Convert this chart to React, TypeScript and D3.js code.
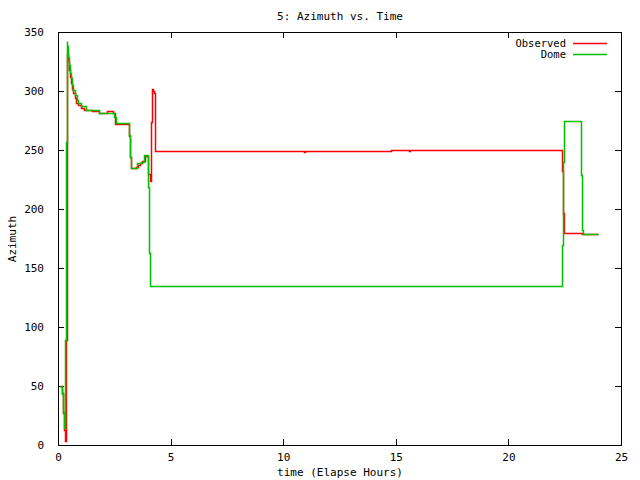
import React, { useEffect, useRef } from 'react';
import * as d3 from 'd3';

// Dome azimuth (green), step samples: elapsed hours / degrees
const domeTime = [
  0.09, 0.13, 0.16, 0.21, 0.24, 0.28, 0.33, 0.36, 0.38, 0.42, 0.45, 0.48, 0.52, 0.57, 0.62, 0.68,
  0.74, 0.83, 0.9, 1.04, 1.26, 1.84, 2.49, 2.58, 3.17, 3.21, 3.25, 3.52, 3.7, 3.82, 4.01, 4.06,
  4.1, 22.39, 22.43, 22.48, 23.24, 23.28, 23.32, 23.99,
];
const domeAzimuth = [
  50, 49, 43, 37, 28, 14, 89, 257, 342, 338, 329, 322, 315, 311, 305, 301,
  297, 292, 289.6, 287, 284, 281, 278, 272.6, 262.7, 244, 234.7, 238.7, 240, 245.8, 219, 162.7,
  134.7, 169.5, 240, 274.8, 228.8, 182, 178.8, 178.8,
];

// Observed azimuth (red)
const observedTime = [
  0.09, 0.16, 0.21, 0.24, 0.28, 0.33, 0.36, 0.4, 0.45, 0.48, 0.52, 0.57, 0.62, 0.68, 0.74, 0.8,
  0.88, 1.0, 1.15, 1.5, 1.84, 2.18, 2.45, 2.55, 3.17, 3.21, 3.25, 3.45, 3.55, 3.65, 3.75, 3.87,
  4.01, 4.08, 4.13, 4.17, 4.22, 4.27, 4.29, 10.94, 10.99, 11.86, 14.77, 15.6, 15.65, 22.39,
  22.43, 22.46, 23.28, 23.99,
];
const observedAzimuth = [
  50, 44, 36, 27, 13, 3, 89, 331, 325, 318, 312, 307, 302, 298, 294, 290,
  288, 286, 284, 283, 281, 283, 281, 272, 262, 244, 235, 236, 237.5, 239, 241, 245,
  230, 224, 274, 302, 300, 298, 249.5, 248.7, 249.5, 248.9, 249.7, 248.9, 249.7, 232.5,
  196.6, 179.4, 178.5, 178.5,
];

const xTicks = [0, 5, 10, 15, 20, 25];
const yTicks = [0, 50, 100, 150, 200, 250, 300, 350];

const series = [
  { name: 'Observed', time: observedTime, value: observedAzimuth, color: '#ff0000' },
  { name: 'Dome', time: domeTime, value: domeAzimuth, color: '#00c000' },
];

const FONT = '"DejaVu Sans Mono", monospace';

const App: React.FC = () => {
  const svgRef = useRef<SVGSVGElement>(null);

  useEffect(() => {
    if (!svgRef.current) return;
    const width = 640;
    const height = 480;
    const m = { left: 58, right: 19, top: 32, bottom: 35 };

    const svg = d3.select(svgRef.current);
    svg.selectAll('*').remove();
    svg.attr('width', width).attr('height', height);

    svg.append('rect').attr('width', width).attr('height', height).attr('fill', '#fff');

    const x = d3.scaleLinear().domain([0, 25]).range([m.left, width - m.right]);
    const y = d3.scaleLinear().domain([0, 350]).range([height - m.bottom, m.top]);
    // snap to pixel centres so 1px lines stay sharp
    const px = (v: number) => Math.round(v) + 0.5;

    // inward ticks on all four sides (gnuplot style)
    const axisStyle = (g: d3.Selection<SVGGElement, unknown, null, undefined>) => {
      g.select('.domain').remove();
      g.selectAll('line').attr('stroke', '#000').attr('shape-rendering', 'crispEdges');
      g.selectAll('text')
        .attr('font-family', FONT)
        .attr('font-size', 11)
        .attr('fill', '#000');
    };

    svg.append('g')
      .attr('transform', `translate(0,${y(0)})`)
      .call(d3.axisBottom(x).tickValues(xTicks).tickSize(-6).tickPadding(8).tickFormat(d3.format('d')))
      .call(axisStyle);
    svg.append('g')
      .attr('transform', `translate(0,${y(350)})`)
      .call(d3.axisTop(x).tickValues(xTicks).tickSize(-6).tickFormat(() => ''))
      .call(axisStyle);
    svg.append('g')
      .attr('transform', `translate(${x(0)},0)`)
      .call(d3.axisLeft(y).tickValues(yTicks).tickSize(-6).tickPadding(14).tickFormat(d3.format('d')))
      .call(axisStyle);
    svg.append('g')
      .attr('transform', `translate(${x(25)},0)`)
      .call(d3.axisRight(y).tickValues(yTicks).tickSize(-6).tickFormat(() => ''))
      .call(axisStyle);

    svg.append('rect')
      .attr('x', px(x(0)))
      .attr('y', px(y(350)))
      .attr('width', Math.round(x(25) - x(0)))
      .attr('height', Math.round(y(0) - y(350)))
      .attr('fill', 'none')
      .attr('stroke', '#000')
      .attr('shape-rendering', 'crispEdges');

    const line = d3.line<[number, number]>()
      .x((d) => px(x(d[0])))
      .y((d) => px(y(d[1])))
      .curve(d3.curveStepAfter);

    series.forEach((s) => {
      const pts = s.time.map((t, i) => [t, s.value[i]] as [number, number]);
      svg.append('path')
        .attr('d', line(pts) || '')
        .attr('fill', 'none')
        .attr('stroke', s.color)
        .attr('stroke-width', 1.5)
        .attr('stroke-linejoin', 'miter');
    });

    // legend
    series.forEach((s, i) => {
      const ly = 43 + i * 11;
      svg.append('text')
        .attr('x', 566)
        .attr('y', ly)
        .attr('dy', '0.35em')
        .attr('text-anchor', 'end')
        .attr('font-family', FONT)
        .attr('font-size', 10.5)
        .text(s.name);
      svg.append('line')
        .attr('x1', 573)
        .attr('x2', 607)
        .attr('y1', px(ly))
        .attr('y2', px(ly))
        .attr('stroke', s.color)
        .attr('stroke-width', 1.5);
    });

    // title and axis labels
    const label = (tx: number, ty: number, text: string, rotate = 0) =>
      svg.append('text')
        .attr('transform', `translate(${tx},${ty}) rotate(${rotate})`)
        .attr('dy', '0.35em')
        .attr('text-anchor', 'middle')
        .attr('font-family', FONT)
        .attr('font-size', 11)
        .text(text);

    label(340, 16, '5: Azimuth vs. Time');
    label(340, 472, 'time (Elapse Hours)');
    label(12, 239, 'Azimuth', -90);
  }, []);

  return (
    <div style={{ position: 'absolute', left: 0, top: 0 }}>
      <svg ref={svgRef} style={{ display: 'block' }}></svg>
    </div>
  );
};

export default App;
